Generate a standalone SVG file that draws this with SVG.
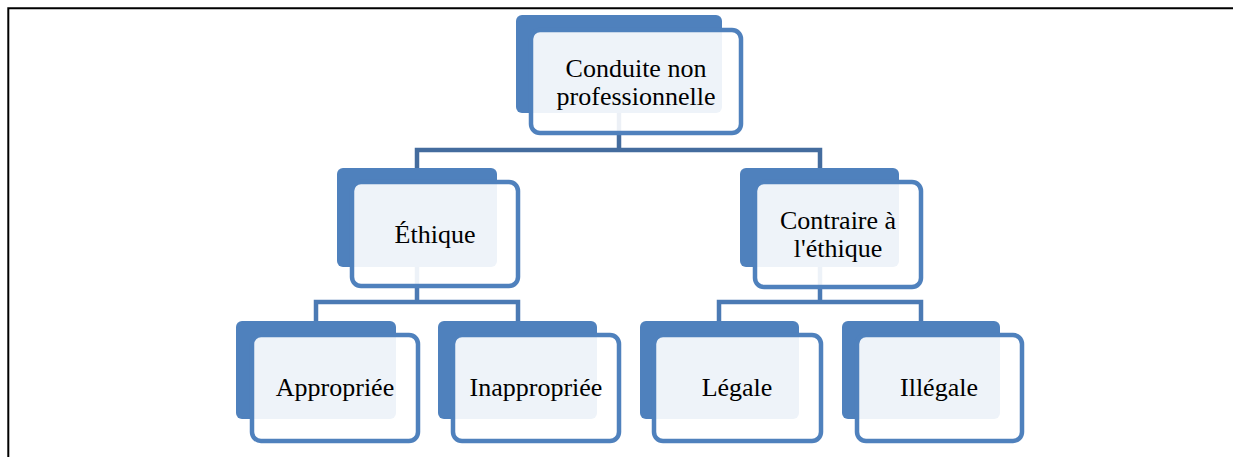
<svg xmlns="http://www.w3.org/2000/svg" width="1233" height="457" viewBox="0 0 1233 457">
<style>
.back{fill:#4F81BD;}
.front{fill:#FFFFFF;fill-opacity:0.9;stroke:#4F81BD;stroke-width:4.5;}
.lbl{font-family:"Liberation Serif","Times New Roman",serif;font-size:26px;fill:#000;text-anchor:middle;}
.c1{fill:none;stroke:#446C9E;stroke-width:4.5;}
.c2{fill:none;stroke:#4B7AB4;stroke-width:4.5;}
.frame{fill:none;stroke:#000;stroke-width:2;}
</style>
<rect width="1233" height="457" fill="#FFFFFF"/>
<path class="frame" d="M8.3,457 V8.3 H1233"/>
<g id="connectors">
<path class="c1" d="M619,113 V150 M417,168 V150 H820 V168"/>
<path class="c2" d="M417,267 V302 M316,321 V302 H518 V321"/>
<path class="c2" d="M820,267 V302 M719,321 V302 H921 V321"/>
</g>
<g id="node-conduite">
<rect class="back" x="516" y="15" width="206" height="98" rx="6"/>
<rect class="front" x="531" y="30" width="210" height="103" rx="9"/>
<text class="lbl" x="636" y="77">Conduite non</text>
<text class="lbl" x="636" y="105">professionnelle</text>
</g>
<g id="node-ethique">
<rect class="back" x="337" y="168" width="160" height="99" rx="6"/>
<rect class="front" x="352" y="182" width="166" height="104" rx="9"/>
<text class="lbl" x="435" y="243">Éthique</text>
</g>
<g id="node-contraire">
<rect class="back" x="740" y="168" width="159" height="99" rx="6"/>
<rect class="front" x="755" y="182" width="166" height="105" rx="9"/>
<text class="lbl" x="838" y="229">Contraire à</text>
<text class="lbl" x="838" y="257">l'éthique</text>
</g>
<g id="node-appropriee">
<rect class="back" x="236" y="321" width="160" height="98" rx="6"/>
<rect class="front" x="252" y="335" width="166" height="106" rx="9"/>
<text class="lbl" x="335" y="396">Appropriée</text>
</g>
<g id="node-inappropriee">
<rect class="back" x="438" y="321" width="159" height="98" rx="6"/>
<rect class="front" x="453" y="335" width="166" height="106" rx="9"/>
<text class="lbl" x="536" y="396">Inappropriée</text>
</g>
<g id="node-legale">
<rect class="back" x="640" y="321" width="159" height="98" rx="6"/>
<rect class="front" x="654" y="335" width="167" height="106" rx="9"/>
<text class="lbl" x="737" y="396">Légale</text>
</g>
<g id="node-illegale">
<rect class="back" x="842" y="321" width="158" height="98" rx="6"/>
<rect class="front" x="857" y="335" width="165" height="106" rx="9"/>
<text class="lbl" x="939" y="396">Illégale</text>
</g>
</svg>
